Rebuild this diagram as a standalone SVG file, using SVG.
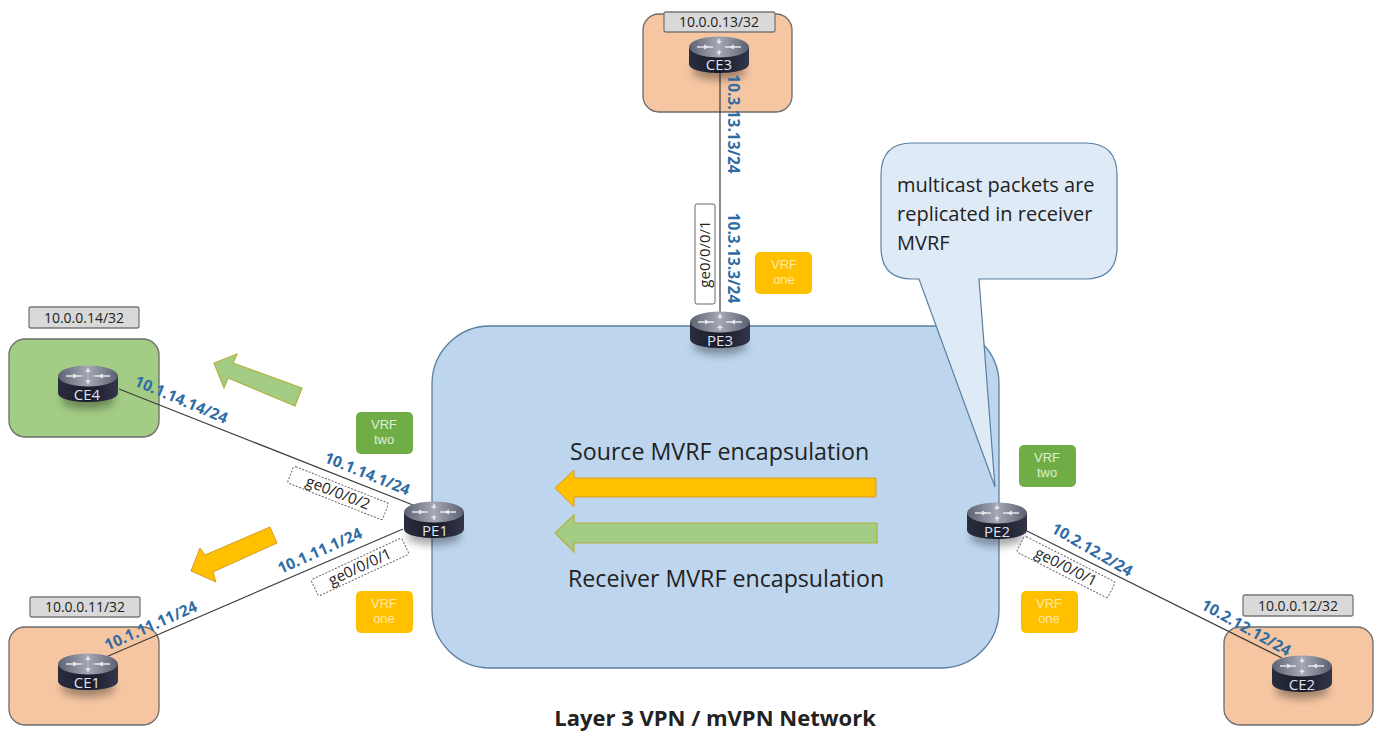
<svg xmlns="http://www.w3.org/2000/svg" width="1378" height="734" viewBox="0 0 1378 734">
<defs>
<linearGradient id="top" x1="0" x2="1" y1="0" y2="0"><stop offset="0" stop-color="#5d6272"/><stop offset="0.5" stop-color="#a5a9b5"/><stop offset="1" stop-color="#5a5f70"/></linearGradient>
<linearGradient id="body" x1="0" x2="1" y1="0" y2="0"><stop offset="0" stop-color="#2a2d3c"/><stop offset="0.5" stop-color="#1a1c2b"/><stop offset="1" stop-color="#33364a"/></linearGradient>
<filter id="sh" x="-30%" y="-30%" width="160%" height="190%"><feGaussianBlur stdDeviation="4"/></filter>
<g id="router">
<ellipse cx="0" cy="16" rx="27" ry="9" fill="#000" opacity="0.35" filter="url(#sh)"/>
<path d="M-30,-8 V9 C-30,21 30,21 30,9 V-8 Z" fill="url(#body)"/>
<ellipse cx="0" cy="-8" rx="30" ry="10.5" fill="url(#top)"/>
<path d="M-22,-8 H-6 M6,-8 H22 M0,-16 V-12 M0,-4 V0" stroke="#e4e6ec" stroke-width="1.6" fill="none"/>
<path d="M-10,-8 L-15,-10.5 V-5.5 Z M10,-8 L15,-10.5 V-5.5 Z M0,-11 L-3,-14 H3 Z M0,-5 L-3,-2 H3 Z" fill="#e4e6ec"/>
</g>
</defs>
<style>
text{font-family:"Open Sans","Noto Sans","Liberation Sans",sans-serif}
.site{stroke:#6b6b6b;stroke-width:1.3}
.orange{fill:#f6c6a3}.green{fill:#a3cd85}
.lo rect{fill:#d9d9d9;stroke:#777;stroke-width:1.3}
.lo text{font-size:14px;fill:#222;text-anchor:middle}
.link{stroke:#3d3d3d;stroke-width:1.2;fill:none}
.ip{font-size:15.5px;font-weight:700;fill:#2e6ca4;text-anchor:middle}
.if rect{fill:#fff;stroke:#666;stroke-width:1;stroke-dasharray:2 1.5}
.if text{font-size:15px;fill:#222;text-anchor:middle}
.vrf text{font-family:"Liberation Sans",sans-serif;font-size:13px;text-anchor:middle}
.one rect{fill:#ffc000}.one text{fill:#ffe9a8}
.two rect{fill:#70ad47}.two text{fill:#dff0d0}
.rname{font-size:15px;fill:#dfe3ee;text-anchor:middle}
.arrowO{fill:#ffc000;stroke:#d99a2b;stroke-width:1}
.arrowG{fill:#a3cd85;stroke:#b5b03a;stroke-width:1.2}
</style>
<rect width="1378" height="734" fill="#fff"/>
<g id="cloud"><rect x="432" y="326" width="567" height="342" rx="58" fill="#bdd6ee" stroke="#5b7f9f" stroke-width="1.3"/></g>
<g id="site-ce3"><rect class="site orange" x="643" y="14" width="149" height="98" rx="16"/></g>
<g id="site-ce4"><rect class="site green" x="9" y="339" width="150" height="98" rx="16"/></g>
<g id="site-ce1"><rect class="site orange" x="9" y="627" width="150" height="98" rx="16"/></g>
<g id="site-ce2"><rect class="site orange" x="1224" y="627" width="149" height="98" rx="16"/></g>
<g id="callout"><path d="M912,143 H1085 Q1117,143 1117,175 V247 Q1117,279 1085,279 H979 L995,487 L919,279 H912 Q881,279 881,247 V175 Q881,143 912,143 Z" fill="#deebf7" stroke="#5b7f9f" stroke-width="1.2"/>
<text x="897" y="192" font-size="20" fill="#222">multicast packets are</text>
<text x="897" y="221" font-size="20" fill="#222">replicated in receiver</text>
<text x="897" y="250" font-size="20" fill="#222">MVRF</text></g>
<g id="connectors">
<line class="link" x1="720" y1="70" x2="720" y2="316"/>
<line class="link" x1="119" y1="389" x2="413" y2="505"/>
<line class="link" x1="106" y1="657" x2="403" y2="529"/>
<line class="link" x1="1027" y1="531" x2="1282" y2="658"/>
</g>
<g id="lo-ce3" class="lo"><rect x="664" y="12" width="111" height="20" rx="2"/><text x="719" y="27">10.0.0.13/32</text></g>
<g id="lo-ce4" class="lo"><rect x="29" y="307" width="110" height="21" rx="2"/><text x="84" y="323">10.0.0.14/32</text></g>
<g id="lo-ce1" class="lo"><rect x="30" y="597" width="110" height="20" rx="2"/><text x="85" y="612">10.0.0.11/32</text></g>
<g id="lo-ce2" class="lo"><rect x="1243" y="595" width="110" height="21" rx="2"/><text x="1298" y="611">10.0.0.12/32</text></g>
<g id="ce3"><use href="#router" x="719" y="55"/><text class="rname" x="719" y="70">CE3</text></g>
<g id="pe3"><use href="#router" x="720" y="330"/><text class="rname" x="720" y="346">PE3</text></g>
<g id="ce4"><use href="#router" x="88" y="384"/><text class="rname" x="87" y="400">CE4</text></g>
<g id="ce1"><use href="#router" x="88" y="672"/><text class="rname" x="87" y="688">CE1</text></g>
<g id="pe1"><use href="#router" x="434" y="520"/><text class="rname" x="435" y="536">PE1</text></g>
<g id="pe2"><use href="#router" x="997" y="521"/><text class="rname" x="997" y="537">PE2</text></g>
<g id="ce2"><use href="#router" x="1302" y="674"/><text class="rname" x="1302" y="690">CE2</text></g>
<g id="labels">
<text class="ip" transform="translate(733,124) rotate(90)" dy="5">10.3.13.13/24</text>
<text class="ip" transform="translate(733,258) rotate(90)" dy="5">10.3.13.3/24</text>
<text class="ip" transform="translate(181,400) rotate(23)" dy="5">10.1.14.14/24</text>
<text class="ip" transform="translate(367,474) rotate(22)" dy="5">10.1.14.1/24</text>
<text class="ip" transform="translate(320,551) rotate(-24)" dy="5">10.1.11.1/24</text>
<text class="ip" transform="translate(151,626) rotate(-24)" dy="5">10.1.11.11/24</text>
<text class="ip" transform="translate(1092,550) rotate(30)" dy="5">10.2.12.2/24</text>
<text class="ip" transform="translate(1246,628) rotate(29)" dy="5">10.2.12.12/24</text>
</g>
<g id="if-pe3" class="if" transform="translate(705,254) rotate(-90)"><rect x="-50" y="-10" width="100" height="20" rx="2" style="stroke-dasharray:none"/><text dy="5">ge0/0/0/1</text></g>
<g id="if-pe1-2" class="if" transform="translate(338,493) rotate(21.5)"><rect x="-51" y="-9" width="102" height="18" rx="2"/><text dy="5">ge0/0/0/2</text></g>
<g id="if-pe1-1" class="if" transform="translate(360,567) rotate(-25)"><rect x="-50" y="-9" width="100" height="18" rx="2"/><text dy="5">ge0/0/0/1</text></g>
<g id="if-pe2" class="if" transform="translate(1066,567) rotate(27)"><rect x="-51" y="-9" width="102" height="18" rx="2"/><text dy="5">ge0/0/0/1</text></g>
<g id="vrf-pe3" class="vrf one"><rect x="755" y="252" width="57" height="42" rx="5"/><text x="784" y="269">VRF</text><text x="784" y="284">one</text></g>
<g id="vrf-pe1-two" class="vrf two"><rect x="356" y="412" width="57" height="42" rx="5"/><text x="384" y="429">VRF</text><text x="384" y="444">two</text></g>
<g id="vrf-pe1-one" class="vrf one"><rect x="356" y="591" width="57" height="42" rx="5"/><text x="384" y="608">VRF</text><text x="384" y="623">one</text></g>
<g id="vrf-pe2-two" class="vrf two"><rect x="1019" y="445" width="57" height="42" rx="5"/><text x="1047" y="462">VRF</text><text x="1047" y="477">two</text></g>
<g id="vrf-pe2-one" class="vrf one"><rect x="1021" y="591" width="57" height="42" rx="5"/><text x="1049" y="608">VRF</text><text x="1049" y="623">one</text></g>
<g id="arrows">
<path class="arrowO" d="M876,478 H574 V470 L555,488 L574,507 V497 H876 Z"/>
<path class="arrowG" d="M877,523 H574 V515 L555,533 L574,552 V543 H877 Z"/>
<path class="arrowG" d="M302,388 L295,406 L228,378 L224,388 L214,363 L237,354 L233,363 Z"/>
<path class="arrowO" d="M270,527 L277,543 L213,572 L216,582 L191,571 L200,548 L205,555 Z"/>
</g>
<text x="570" y="460" font-size="23.2" fill="#222">Source MVRF encapsulation</text>
<text x="568" y="587" font-size="23.2" fill="#222">Receiver MVRF encapsulation</text>
<text x="715" y="726" font-size="22" font-weight="700" fill="#222" text-anchor="middle">Layer 3 VPN / mVPN Network</text>
</svg>
